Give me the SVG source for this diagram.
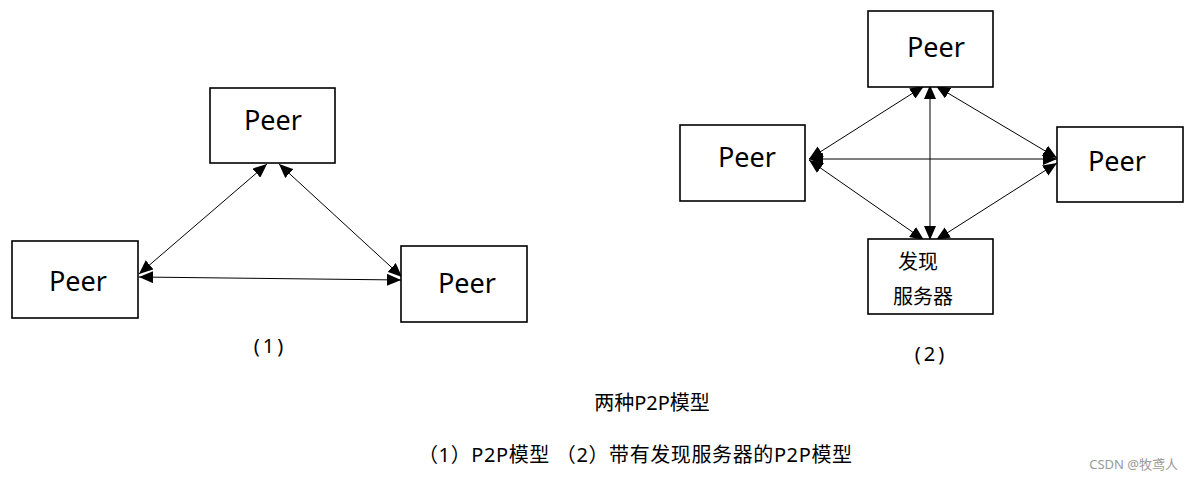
<svg xmlns="http://www.w3.org/2000/svg" width="1193" height="481" viewBox="0 0 1193 481">
<style>
.box{fill:#fff;stroke:#000;stroke-width:1.6}
.lbl{font-family:"Noto Sans","DejaVu Sans",sans-serif;font-size:27px;fill:#000;text-anchor:middle}
.cn{font-family:"Noto Sans CJK SC",sans-serif;font-size:20px;fill:#000}
.cap{font-family:"Noto Sans","Noto Sans CJK SC",sans-serif;font-size:20px;fill:#000;text-anchor:middle}
.ln{stroke:#000;stroke-width:1;fill:none;marker-start:url(#ah);marker-end:url(#ah)}
</style>
<defs>
<marker id="ah" viewBox="0 0 14 12" refX="14" refY="6" markerWidth="14" markerHeight="12" markerUnits="userSpaceOnUse" orient="auto-start-reverse">
<path d="M0,0 L14,6 L0,12 z" fill="#000"/>
</marker>
</defs>
<rect width="1193" height="481" fill="#fff"/>
<g id="connectors">
<line class="ln" x1="267" y1="164" x2="139" y2="274"/>
<line class="ln" x1="279" y1="164" x2="402" y2="277"/>
<line class="ln" x1="139" y1="277" x2="401" y2="280"/>
<line class="ln" x1="924" y1="86" x2="809" y2="159"/>
<line class="ln" x1="936" y1="86" x2="1057" y2="158"/>
<line class="ln" x1="930" y1="85" x2="930" y2="240"/>
<line class="ln" x1="809" y1="159" x2="1057" y2="159"/>
<line class="ln" x1="809" y1="160" x2="924" y2="240"/>
<line class="ln" x1="1057" y1="163" x2="936" y2="240"/>
</g>
<g id="peer-l-top"><rect class="box" x="210" y="88" width="125" height="75"/><text class="lbl" x="273" y="130">Peer</text></g>
<g id="peer-l-left"><rect class="box" x="12" y="241" width="126" height="77"/><text class="lbl" x="78" y="291">Peer</text></g>
<g id="peer-l-right"><rect class="box" x="401" y="246" width="126" height="76"/><text class="lbl" x="467" y="293">Peer</text></g>
<g id="peer-r-top"><rect class="box" x="868" y="11" width="125" height="76"/><text class="lbl" x="936" y="57">Peer</text></g>
<g id="peer-r-left"><rect class="box" x="680" y="125" width="125" height="76"/><text class="lbl" x="747" y="167">Peer</text></g>
<g id="peer-r-right"><rect class="box" x="1057" y="127" width="126" height="75"/><text class="lbl" x="1117" y="171">Peer</text></g>
<g id="server"><rect class="box" x="868" y="239" width="125" height="75"/><text class="cn" x="898" y="269">发现</text><text class="cn" x="893" y="304">服务器</text></g>
<text class="cap" x="270" y="353" font-size="19" letter-spacing="3">(1)</text>
<text class="cap" x="931" y="361" font-size="19" letter-spacing="3">(2)</text>
<text class="cap" x="652" y="410">两种P2P模型</text>
<text class="cap" x="635" y="462" textLength="434" lengthAdjust="spacing">（1）P2P模型 （2）带有发现服务器的P2P模型</text>
<text x="1178" y="469" font-family="Noto Sans,Noto Sans CJK SC,sans-serif" font-size="13" fill="#999" text-anchor="end">CSDN @牧鸢人</text>
</svg>
